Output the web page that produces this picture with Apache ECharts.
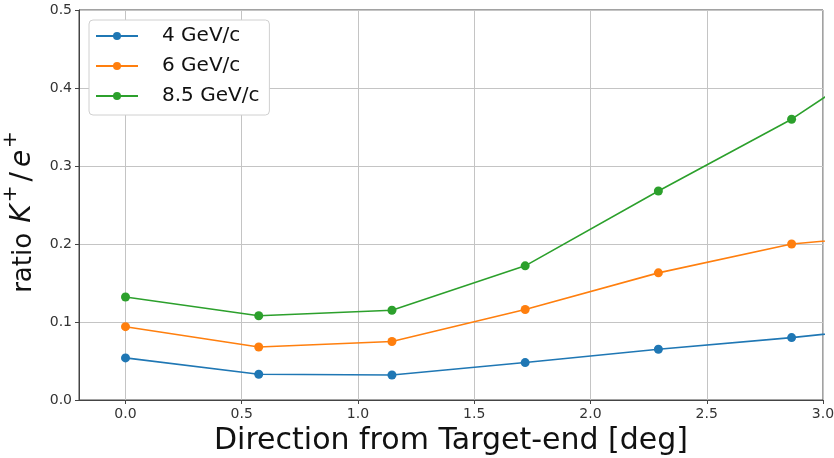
<!DOCTYPE html>
<html>
<head>
<meta charset="utf-8">
<script src="https://cdn.jsdelivr.net/npm/echarts@6/dist/echarts.min.js"></script>
<style>
  html, body { margin: 0; padding: 0; background: #fff; }
  #chart { width: 834px; height: 458px; }
</style>
</head>
<body>
<div id="chart"></div>
<script>
// Angle from the target end (deg) for each measurement
const angles = [0.0, 0.573, 1.146, 1.719, 2.292, 2.865, 3.438];

// K+/e+ ratio per beam momentum
const ratio4 = [0.054, 0.033, 0.032, 0.048, 0.065, 0.080, 0.098];
const ratio6 = [0.094, 0.068, 0.075, 0.116, 0.163, 0.200, 0.215];
const ratio85 = [0.132, 0.108, 0.115, 0.172, 0.268, 0.360, 0.474];

const seriesNames = ['4 GeV/c', '6 GeV/c', '8.5 GeV/c'];
const seriesColors = ['#1f77b4', '#ff7f0e', '#2ca02c'];

const xTicks = [0.0, 0.5, 1.0, 1.5, 2.0, 2.5, 3.0];

const FONT = 'DejaVu Sans';

function pairs(xs, ys) {
  return xs.map((x, i) => [x, ys[i]]);
}

function lineSeries(name, color, values) {
  return {
    name: name,
    type: 'line',
    data: pairs(angles, values),
    symbol: 'circle',
    symbolSize: 9,
    clip: true,
    z: 3,
    itemStyle: { color: color },
    lineStyle: { color: color, width: 1.6 },
    emphasis: { disabled: true }
  };
}

const chart = echarts.init(document.getElementById('chart'), null, { renderer: 'canvas' });

chart.setOption({
  animation: false,
  backgroundColor: '#fff',
  textStyle: { fontFamily: FONT },
  grid: {
    left: 79, right: 11, top: 10, bottom: 58,
    outerBoundsMode: 'none',
    containLabel: false,
    show: true, borderColor: '#444', borderWidth: 1, backgroundColor: 'transparent'
  },
  legend: {
    data: seriesNames,
    orient: 'vertical',
    left: 89, top: 20,
    padding: [6, 10, 9, 6],
    itemGap: 10,
    itemWidth: 42,
    itemHeight: 10,
    backgroundColor: '#fff',
    borderColor: '#d0d0d0',
    borderWidth: 1,
    borderRadius: 4,
    textStyle: { fontFamily: FONT, fontSize: 20, color: '#111', padding: [0, 0, 0, 19] }
  },
  xAxis: {
    type: 'value',
    min: -0.2,
    max: 3.0,
    name: 'Direction from Target-end [deg]',
    nameLocation: 'middle',
    nameGap: 24,
    nameTextStyle: { fontFamily: FONT, fontSize: 30, color: '#111' },
    axisLine: { show: true, onZero: false, lineStyle: { color: '#444', width: 1 } },
    axisTick: { show: true, length: 4, customValues: xTicks, lineStyle: { color: '#444' } },
    axisLabel: {
      customValues: xTicks,
      fontFamily: FONT, fontSize: 14, color: '#333', margin: 7,
      formatter: v => v.toFixed(1)
    },
    splitLine: { show: true, lineStyle: { color: '#c4c4c4', width: 1 } }
  },
  yAxis: {
    type: 'value',
    min: 0,
    max: 0.5,
    interval: 0.1,
    name: '{n|ratio }{i|K}{s|+}{m|/}{i|e}{t|+}',
    nameLocation: 'middle',
    nameGap: 42,
    nameTextStyle: {
      fontFamily: FONT, fontSize: 26, color: '#111',
      rich: {
        n: { fontFamily: FONT, fontSize: 26, color: '#111', verticalAlign: 'bottom', lineHeight: 36 },
        m: { fontFamily: FONT, fontSize: 28, color: '#111', verticalAlign: 'bottom', lineHeight: 36, padding: [0, 3, 0, 3] },
        i: { fontFamily: FONT, fontSize: 28, fontStyle: 'italic', color: '#111', verticalAlign: 'bottom', lineHeight: 36, padding: [0, 1, 0, 2] },
        s: { fontFamily: FONT, fontSize: 20, color: '#111', verticalAlign: 'top', lineHeight: 36, padding: [0, 1, 0, 1] },
        t: { fontFamily: FONT, fontSize: 20, color: '#111', verticalAlign: 'top', lineHeight: 36, padding: [0, 14, 0, 1] }
      }
    },
    axisLine: { show: true, onZero: false, lineStyle: { color: '#444', width: 1 } },
    axisTick: { show: true, length: 4, lineStyle: { color: '#444' } },
    axisLabel: {
      fontFamily: FONT, fontSize: 14, color: '#333', margin: 7,
      formatter: v => v.toFixed(1)
    },
    splitLine: { show: true, lineStyle: { color: '#c4c4c4', width: 1 } }
  },
  series: [
    lineSeries(seriesNames[0], seriesColors[0], ratio4),
    lineSeries(seriesNames[1], seriesColors[1], ratio6),
    lineSeries(seriesNames[2], seriesColors[2], ratio85)
  ]
});
</script>
</body>
</html>
